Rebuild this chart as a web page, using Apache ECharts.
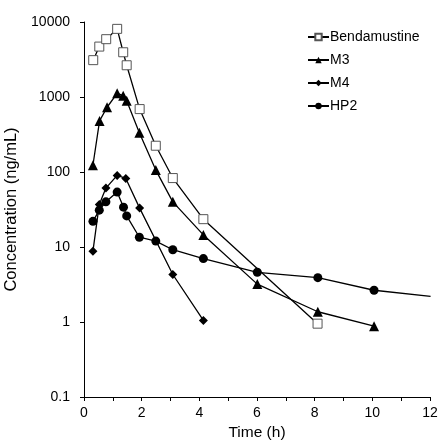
<!DOCTYPE html>
<html><head><meta charset="utf-8">
<script src="https://cdn.jsdelivr.net/npm/echarts@6/dist/echarts.min.js"></script>
<style>html,body{margin:0;padding:0;background:#fff}#c{width:438px;height:444px}</style>
</head><body><div id="c"></div>
<script>
var seriesNames = ['Bendamustine', 'M3', 'M4', 'HP2'];
var xTicks = [0, 2, 4, 6, 8, 10, 12];
var yTicks = [0.1, 1, 10, 100, 1000, 10000];

var bendaTime = [0.32, 0.53, 0.77, 1.15, 1.36, 1.48, 1.93, 2.49, 3.08, 4.14, 8.1];
var bendaConc = [3100, 4700, 5900, 8100, 3950, 2650, 690, 224, 83, 23.5, 0.95];

var m3Time = [0.31, 0.54, 0.80, 1.15, 1.36, 1.48, 1.92, 2.49, 3.08, 4.14, 6.01, 8.11, 10.06];
var m3Conc = [123, 480, 730, 1120, 1040, 890, 334, 106, 40, 14.5, 3.2, 1.37, 0.88];

var m4Time = [0.31, 0.53, 0.76, 1.15, 1.45, 1.93, 3.08, 4.14];
var m4Conc = [8.8, 37, 61, 90, 82, 33, 4.3, 1.05];

var hp2Time = [0.31, 0.53, 0.76, 1.15, 1.37, 1.48, 1.92, 2.49, 3.08, 4.14, 6.01, 8.11, 10.06, 12.02];
var hp2Conc = [22, 31, 40, 54, 34, 26, 13.5, 12, 9.2, 7, 4.6, 3.9, 2.65, 2.2];

function pairs(t, c) { return t.map(function (v, i) { return [v, c[i]]; }); }

var font = '"Liberation Sans", Arial, sans-serif';
var chart = echarts.init(document.getElementById('c'), null, {renderer: 'canvas'});
var lineStyle = {color: '#000', width: 1.3};
chart.setOption({
  animation: false,
  backgroundColor: '#fff',
  grid: {left: 84, right: 8, top: 22, bottom: 47, containLabel: false, outerBoundsMode: 'none'},
  legend: {
    orient: 'vertical', left: 307, top: 30, padding: 0, itemWidth: 21, itemHeight: 8, itemGap: 9,
    data: seriesNames,
    textStyle: {fontFamily: font, fontSize: 14, color: '#000', lineHeight: 14, padding: [0, 0, 0, -4]}
  },
  xAxis: {
    type: 'value', min: xTicks[0], max: xTicks[xTicks.length - 1], interval: 2,
    name: 'Time (h)', nameLocation: 'middle', nameGap: 27,
    nameTextStyle: {fontFamily: font, fontSize: 15.5, color: '#000'},
    axisLine: {show: true, lineStyle: {color: '#000', width: 1}},
    axisTick: {show: true, length: 4, lineStyle: {color: '#000'}},
    minorTick: {show: true, splitNumber: 2, length: 4, lineStyle: {color: '#000'}},
    splitLine: {show: false},
    axisLabel: {fontFamily: font, fontSize: 14, color: '#000', margin: 9}
  },
  yAxis: {
    type: 'log', logBase: 10, min: yTicks[0], max: yTicks[yTicks.length - 1],
    name: 'Concentration (ng/mL)', nameLocation: 'middle', nameGap: 56, nameRotate: 90,
    nameTextStyle: {fontFamily: font, fontSize: 16.5, color: '#000'},
    axisLine: {show: true, lineStyle: {color: '#000', width: 1}},
    axisTick: {show: true, length: 4, lineStyle: {color: '#000'}},
    splitLine: {show: false},
    axisLabel: {fontFamily: font, fontSize: 14, color: '#000', margin: 14,
      formatter: function (v) { return v < 1 ? String(Math.round(v * 10) / 10) : String(Math.round(v)); }}
  },
  series: [
    {name: seriesNames[0], type: 'line', data: pairs(bendaTime, bendaConc), symbol: 'rect', symbolSize: 9,
      lineStyle: lineStyle, itemStyle: {color: '#fff', borderColor: '#555', borderWidth: 1}, z: 2},
    {name: seriesNames[1], type: 'line', data: pairs(m3Time, m3Conc), symbol: 'triangle', symbolSize: 10,
      lineStyle: lineStyle, itemStyle: {color: '#000'}, z: 3},
    {name: seriesNames[2], type: 'line', data: pairs(m4Time, m4Conc), symbol: 'diamond', symbolSize: 9,
      lineStyle: lineStyle, itemStyle: {color: '#000'}, z: 3},
    {name: seriesNames[3], type: 'line', data: pairs(hp2Time, hp2Conc), symbol: 'circle', symbolSize: 9,
      lineStyle: lineStyle, itemStyle: {color: '#000'}, z: 3}
  ]
});
</script></body></html>
